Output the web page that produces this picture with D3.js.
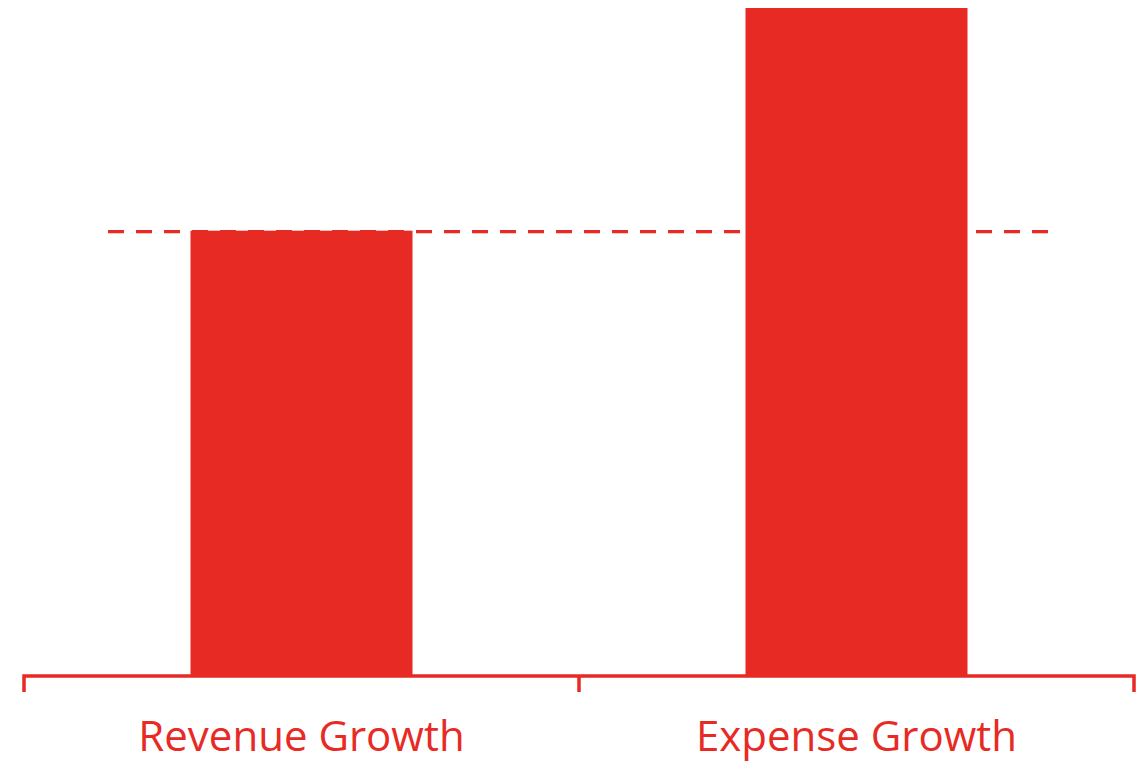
<!DOCTYPE html>
<html><head><meta charset="utf-8">
<script src="https://cdn.jsdelivr.net/npm/d3@7"></script>
<style>body{margin:0;background:#fff}svg{display:block}</style>
</head><body>
<script>
const categories = ["Revenue Growth", "Expense Growth"];
const values = [0.04, 0.06];
const referenceValue = 0.04;

const W = 1141, H = 763, color = "#E82A25";
const svg = d3.select("body").append("svg").attr("width", W).attr("height", H);
const x = d3.scaleBand().domain(categories).range([24, 1134]);
const y = d3.scaleLinear().domain([0, 0.06]).range([676, 8]);
const barW = x.bandwidth() * 0.4;

svg.selectAll("rect.bar").data(categories).join("rect")
  .attr("class", "bar")
  .attr("x", d => x(d) + (x.bandwidth() - barW) / 2)
  .attr("width", barW)
  .attr("y", (d, i) => y(values[i]))
  .attr("height", (d, i) => y(0) - y(values[i]))
  .attr("fill", color);

svg.append("line")
  .attr("x1", x.range()[0] + 84).attr("x2", x.range()[1] - 86)
  .attr("y1", y(referenceValue) + 1).attr("y2", y(referenceValue) + 1)
  .attr("stroke", color).attr("stroke-width", 3.3)
  .attr("stroke-dasharray", "16 12");

const g = svg.append("g").attr("transform", `translate(0,${y(0)})`);
g.append("path").attr("d", `M${x.range()[0]},16V0H${x.range()[1]}V16`)
  .attr("fill", "none").attr("stroke", color).attr("stroke-width", 3.5);
g.append("line").attr("x1", x(categories[1])).attr("x2", x(categories[1]))
  .attr("y1", 0).attr("y2", 16).attr("stroke", color).attr("stroke-width", 3.5);

g.selectAll("text.lbl").data(categories).join("text")
  .attr("class", "lbl")
  .attr("x", d => x(d) + x.bandwidth() / 2)
  .attr("y", 75)
  .attr("text-anchor", "middle")
  .attr("font-family", "'Open Sans', sans-serif")
  .attr("font-size", 42)
  .attr("fill", color)
  .text(d => d);
</script>
</body></html>
